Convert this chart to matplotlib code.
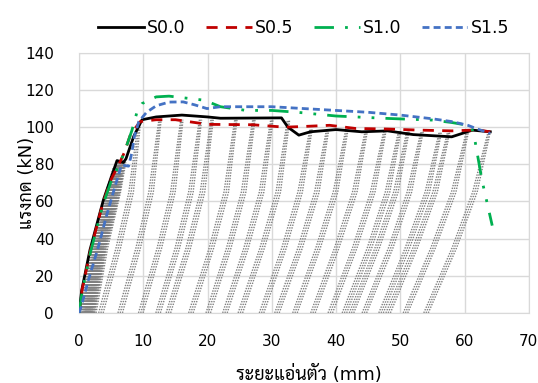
import matplotlib
matplotlib.use("Agg")
import matplotlib.pyplot as plt
from matplotlib import font_manager

# envelope curves (displacement mm, load kN)
s00_x = [0, 0.4, 1.7, 3.8, 5.0, 5.9, 6.9, 7.3, 8.5, 9.8, 12, 16, 20, 22, 31.5, 32.5, 34.2, 36, 40, 44, 48, 52, 58, 61.2, 64]
s00_y = [0, 12, 34, 61, 73, 82, 81, 83, 95, 104, 105.5, 106.5, 105.5, 104.8, 105, 100, 95.7, 97.5, 98.7, 97.5, 98, 96, 94.8, 98.4, 97.5]

s05_x = [0, 0.5, 1.8, 3.7, 5.0, 6.2, 7.0, 8.0, 9.5, 12, 15, 17, 20, 27, 32, 34.5, 39, 43, 48, 53, 58, 62, 64]
s05_y = [0, 13, 34, 59, 72, 80, 86, 96, 103, 104, 104, 103, 101.5, 101.3, 100, 100.3, 101, 99.3, 99, 98.4, 98, 98.5, 97.5]

s10_x = [0, 0.5, 1.8, 3.7, 5.0, 6.3, 7.2, 8.2, 9.0, 9.8, 12, 14, 17, 19.5, 22, 26, 30, 34, 40, 48, 55, 58, 61, 61.5, 62.7, 64.3]
s10_y = [0, 12, 33, 58, 71, 80, 88, 98, 108, 112.7, 116.3, 116.7, 115.5, 114.5, 111, 109, 109, 108, 106, 104.7, 103.8, 102.5, 100.7, 95, 71.5, 47]

s15_x = [0, 0.3, 1.45, 3.0, 4.3, 5.5, 6.6, 7.7, 8.2, 8.6, 9.3, 10.5, 12, 14, 16.2, 18, 19.9, 22, 25, 30, 34, 40, 45, 50, 55, 58, 60.5, 62, 64]
s15_y = [0, 3, 17.7, 35.6, 52.7, 67, 79.6, 79, 86, 95, 103, 108, 111.5, 113.5, 113.6, 112, 110, 111, 111, 111, 110.2, 109, 108, 106.5, 104.5, 103, 101, 99, 96.6]

# cyclic reloading paths: x at load 0, 35 kN, 65 kN, and end point on the envelope
cyc_x0 = [0.5, 0.6, 0.7, 0.8, 0.9, 1.0, 1.1, 1.2, 1.3, 1.4, 1.5, 1.6, 1.7, 1.8, 1.9, 2.0, 2.1, 2.3,
          3.4, 6.4, 9.6, 12.3, 13.9, 17.4, 20.1, 22.7, 25.1, 28.4, 30.8,
          33.6, 36.4, 39.1, 41.3, 42.4, 44.4, 47.0, 48.1, 50.8, 54.0]
cyc_x35 = [2.3, 2.4, 2.5, 2.6, 2.7, 2.8, 2.9, 3.0, 3.1, 3.2, 3.3, 3.4, 3.5, 3.6, 3.7, 3.8, 3.9, 4.1,
           6.1, 9.2, 12.5, 15.3, 17.0, 20.6, 23.3, 26.0, 28.5, 31.9, 34.4,
           37.2, 40.1, 42.9, 45.2, 46.4, 48.5, 51.1, 52.3, 55.1, 58.4]
cyc_x65 = [4.5, 4.6, 4.7, 4.8, 4.9, 5.0, 5.1, 5.2, 5.3, 5.4, 5.5, 5.6, 5.7, 5.8, 5.9, 5.95, 6.0, 6.1,
           8.1, 11.2, 14.6, 17.4, 19.2, 22.9, 25.6, 28.4, 31.0, 34.4, 37.0,
           39.9, 42.9, 45.7, 48.0, 49.3, 51.4, 54.2, 55.4, 58.3, 61.6]
cyc_xp = [5.5, 5.6, 5.7, 5.8, 5.9, 6.0, 6.1, 6.2, 6.3, 6.4, 6.5, 6.6, 6.7, 6.8, 6.9, 6.95, 7.0, 7.1,
          9.4, 12.6, 16.0, 18.9, 20.7, 24.4, 27.2, 30.0, 32.6, 36.1, 38.7,
          41.7, 44.7, 47.6, 49.9, 51.2, 53.4, 56.2, 57.5, 60.4, 63.8]
cyc_yp = [78, 78.5, 79, 79.5, 80, 80, 80, 80.5, 81, 81, 81, 81.5, 82, 82, 82, 82, 82, 81,
          103, 104, 104, 104, 104, 104, 104, 104, 104, 99, 99,
          99, 98, 98, 98, 98, 98, 97, 97, 97, 97]

labels = ["S0.0", "S0.5", "S1.0", "S1.5"]
x_label = "ระยะแอ่นตัว (mm)"
y_label = "แรงกด (kN)"


def pick_thai_font():
    names = {f.name for f in font_manager.fontManager.ttflist}
    for cand in ["Sarabun", "Noto Sans Thai Looped", "Noto Sans Thai", "Niramit", "Mitr"]:
        if cand in names:
            return cand
    return "DejaVu Sans"


def main():
    thai = pick_thai_font()
    fams = ["DejaVu Sans", thai]

    fig = plt.figure(figsize=(5.38, 3.83), dpi=100)
    ax = fig.add_axes([0.147, 0.183, 0.836, 0.679])

    # each test trace was recorded by a few channels, drawn as a tight bundle
    for dx in (-0.35, 0.0, 0.35):
        for x0, xa, xb, xp, yp in zip(cyc_x0, cyc_x35, cyc_x65, cyc_xp, cyc_yp):
            ax.plot([x0 + dx, xa + dx, xb + dx, xp + dx * 0.5], [0, 35, 65, yp],
                    color="#808080", linestyle=(0, (1, 1)), linewidth=1.0, zorder=2)

    ax.plot(s00_x, s00_y, color="black", linewidth=2, label=labels[0], zorder=4)
    ax.plot(s05_x, s05_y, color="#c00000", linewidth=2, linestyle=(0, (4, 3)),
            label=labels[1], zorder=4)
    ax.plot(s10_x, s10_y, color="#00b050", linewidth=2,
            linestyle=(0, (7, 4, 1, 4, 1, 4)), label=labels[2], zorder=4)
    ax.plot(s15_x, s15_y, color="#4472c4", linewidth=2, linestyle=(0, (2.5, 1.5)),
            label=labels[3], zorder=4)

    ax.set_xlim(0, 70)
    ax.set_ylim(0, 140)
    ax.set_xticks(range(0, 71, 10))
    ax.set_yticks(range(0, 141, 20))
    ax.grid(True, color="#d9d9d9", linewidth=1)
    ax.set_axisbelow(True)
    for sp in ax.spines.values():
        sp.set_color("#d9d9d9")
    ax.tick_params(axis="x", length=0, labelsize=11, pad=15)
    ax.tick_params(axis="y", length=0, labelsize=11, pad=18)

    ax.set_xlabel(x_label, fontsize=13, family=fams)
    ax.set_ylabel(y_label, fontsize=13, family=fams)
    ax.xaxis.set_label_coords(0.51, -0.235)
    ax.xaxis.label.set_verticalalignment("center")
    ax.yaxis.set_label_coords(-0.116, 0.5)
    ax.yaxis.label.set_verticalalignment("center")

    ax.legend(loc="lower center", bbox_to_anchor=(0.5, 1.0), ncol=4, frameon=False,
              fontsize=12.5, handlelength=2.6, columnspacing=1.2, handletextpad=0.2)

    fig.savefig("out.png", dpi=100)
    plt.close(fig)


if __name__ == "__main__":
    main()
